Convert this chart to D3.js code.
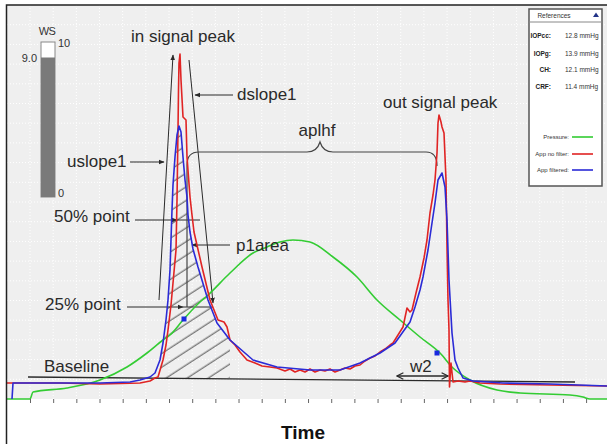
<!DOCTYPE html>
<html>
<head>
<meta charset="utf-8">
<script src="https://cdn.jsdelivr.net/npm/d3@7"></script>
<style>
  body { margin: 0; background: #fff; }
  svg { display: block; font-family: Arial, "Liberation Sans", sans-serif; }
</style>
</head>
<body>
<script>
// samples along x, signal counts along y
const pressure = [[0,0],[23,0],[26,7],[60,11],[93,19],[120,32],[140,46],[156,59],[163,64],[176,79],[193,97],[200,103],[223,126],[246,146],[260,152],[273,157],[286,159],[303,157],[326,142],[350,122],[370,99],[393,79],[413,62],[433,46],[446,31],[463,19],[490,9],[513,6],[563,4],[576,2],[583,0],[600,0]];

const appNoFilter = [[0,16],[53,16],[93,15],[133,16],[143,18],[148,21],[151,22],[156,39],[159,54],[161,69],[164,94],[166,116],[169,149],[170,199],[171,269],[171.5,309],[172,336],[173,345],[174,319],[176,282],[177,281],[179,279],[180,242],[183,202],[185,184],[187,167],[195,132],[203,99],[211,79],[217,77],[220,72],[223,59],[228,54],[233,47],[240,39],[248,36],[255,33],[263,32],[270,31],[278,28],[283,30],[288,27],[293,29],[298,27],[303,30],[308,27],[313,29],[318,28],[323,30],[328,27],[333,29],[338,31],[343,30],[348,33],[353,34],[358,38],[363,41],[368,43],[373,47],[378,50],[383,54],[386,56],[391,64],[396,72],[400,91],[403,87],[405,89],[409,106],[413,122],[417,141],[420,159],[423,186],[426,204],[428,219],[430,246],[431,276],[432,284],[434,277],[435,272],[437,266],[439,219],[440,152],[441,99],[442,69],[442.5,12],[444,36],[446,17],[451,18],[458,17],[463,18],[473,16],[493,15],[543,14],[600,13]];

const appFiltered = [[5,0],[6,16],[53,16],[93,16],[123,17],[133,19],[143,22],[148,26],[153,39],[156,56],[159,79],[161,99],[163,129],[164,159],[165,189],[166,214],[168,242],[170,264],[172,273],[174,267],[176,242],[178,219],[180,202],[181,184],[183,167],[186,150],[191,132],[201,99],[210,76],[223,59],[246,39],[270,32],[303,29],[333,29],[353,36],[373,46],[388,56],[403,77],[408,92],[413,109],[416,122],[421,149],[425,176],[428,196],[431,219],[435,226],[438,212],[440,179],[442,119],[445,66],[448,39],[451,31],[456,21],[466,18],[496,16],[543,15],[600,13]];

const peakMarks = [[177,80],[430,46]];

const seriesNames = ['Pressure:', 'App no filter:', 'App filtered:'];
const refLabels = ['IOPcc:', 'IOPg:', 'CH:', 'CRF:'];
const refValues = ['12.8 mmHg', '13.9 mmHg', '12.1 mmHg', '11.4 mmHg'];

const wsValue = 9.0;
const wsRange = [0, 10];

const tickSamples = d3.range(25).map(k => 23 + k * 23.17);
const gridCounts = d3.range(1, 20).map(k => k * 19.7);

const colors = ['#33cc33', '#e02424', '#2b2bd6'];
const ink = '#2a2a2a';

const svg = d3.select('body').append('svg')
  .attr('width', 607)
  .attr('height', 444);

var x = d3.scaleLinear().domain([0, 600]).range([7, 607]);
var y = d3.scaleLinear().domain([0, 394]).range([399, 5]);

const defs = svg.append('defs');
defs.append('marker')
  .attr('id', 'ah')
  .attr('viewBox', '0 0 10 10')
  .attr('refX', 9).attr('refY', 5)
  .attr('markerWidth', 6).attr('markerHeight', 6)
  .attr('orient', 'auto-start-reverse')
  .append('path').attr('d', 'M0,1L10,5L0,9z').attr('fill', ink);
defs.append('marker')
  .attr('id', 'ao')
  .attr('viewBox', '0 0 10 10')
  .attr('refX', 9).attr('refY', 5)
  .attr('markerWidth', 5).attr('markerHeight', 5)
  .attr('orient', 'auto-start-reverse')
  .append('path').attr('d', 'M1,1L9,5L1,9').attr('fill', 'none').attr('stroke', ink).attr('stroke-width', 1.5);
defs.append('pattern')
  .attr('id', 'hatch')
  .attr('patternUnits', 'userSpaceOnUse')
  .attr('width', 12).attr('height', 11.5)
  .attr('patternTransform', 'rotate(-33)')
  .append('line')
  .attr('x1', 0).attr('x2', 12).attr('y1', 5).attr('y2', 5)
  .attr('stroke', '#3a3a3a').attr('stroke-width', 0.9);

// plot background + grid
svg.append('rect')
  .attr('x', 7).attr('y', 5)
  .attr('width', 600).attr('height', 394)
  .attr('fill', '#efefef');

svg.append('g').selectAll('line')
  .data(tickSamples)
  .enter().append('line')
  .attr('x1', d => x(d)).attr('x2', d => x(d))
  .attr('y1', 5).attr('y2', 399)
  .attr('stroke', '#fff').attr('stroke-dasharray', '1,2');
svg.append('g').selectAll('line')
  .data(gridCounts)
  .enter().append('line')
  .attr('x1', 7).attr('x2', 607)
  .attr('y1', d => y(d)).attr('y2', d => y(d))
  .attr('stroke', '#fff').attr('stroke-dasharray', '1,2');

// hatched p1area
var baseVal = 21;
var hatchArea = d3.area()
  .x(d => x(d[0]))
  .y0(y(baseVal))
  .y1(d => y(Math.max(d[1], baseVal)));
defs.append('clipPath').attr('id', 'p1clip')
  .append('path')
  .attr('d', hatchArea(appFiltered.filter(d => d[0] >= 150 && d[0] <= 228)));
svg.append('rect')
  .attr('x', 140).attr('y', 100)
  .attr('width', 120).attr('height', 290)
  .attr('fill', 'url(#hatch)')
  .attr('clip-path', 'url(#p1clip)');

var line = d3.line().x(d => x(d[0])).y(d => y(d[1]));
function seg(pts, g, opts) {
  var p = g.append('path')
    .attr('d', line(pts))
    .attr('fill', 'none')
    .attr('stroke', ink)
    .attr('stroke-width', (opts && opts.w) || 1);
  if (opts && opts.end) p.attr('marker-end', 'url(#' + opts.end + ')');
  if (opts && opts.start) p.attr('marker-start', 'url(#' + opts.start + ')');
  return p;
}

var ann = svg.append('g');
// baseline
seg([[21,22],[568,17]], ann, { w: 1.3 });
// slopes
seg([[152,99],[166,344]], ann, { end: 'ah' });
seg([[182,339],[206,96]], ann, { end: 'ah' });
// 50% and 25% levels
seg([[128,179],[170,179]], ann, { end: 'ah' });
seg([[170,179],[193,179]], ann);
seg([[120,92],[176,92]], ann, { end: 'ah' });
seg([[176,92],[206,92]], ann);
// leaders
seg([[226,304],[188,304]], ann, { end: 'ah' });
seg([[123,237],[157,237]], ann, { end: 'ah' });
seg([[223,154],[185,154]], ann, { end: 'ah' });
// w2
seg([[390,23],[441,23]], ann, { w: 1.6, start: 'ao', end: 'ao' });

// aplhf brace
var brace = 'M' + x(180) + ',' + y(92) +
  'L' + x(180) + ',' + y(234) +
  'Q' + x(180) + ',' + y(247) + ' ' + x(192) + ',' + y(247) +
  'L' + x(300) + ',' + y(247) +
  'Q' + x(310) + ',' + y(247) + ' ' + x(313) + ',' + y(257) +
  'Q' + x(316) + ',' + y(247) + ' ' + x(326) + ',' + y(247) +
  'L' + x(419) + ',' + y(247) +
  'Q' + x(430) + ',' + y(247) + ' ' + x(430) + ',' + y(233);
ann.append('path').attr('d', brace).attr('fill', 'none').attr('stroke', '#444').attr('stroke-width', 1.2);

// signal curves
var curves = [pressure, appNoFilter, appFiltered];
svg.append('g').selectAll('path')
  .data(curves)
  .enter().append('path')
  .attr('d', (d, i) => (i === 0 ? d3.line().curve(d3.curveMonotoneX).x(p => x(p[0])).y(p => y(p[1])) : line)(d))
  .attr('fill', 'none')
  .attr('stroke', (d, i) => colors[i])
  .attr('stroke-width', 1.6)
  .attr('stroke-linejoin', 'round');

svg.append('g').selectAll('rect')
  .data(peakMarks)
  .enter().append('rect')
  .attr('x', d => x(d[0]) - 2.5).attr('y', d => y(d[1]) - 2.5)
  .attr('width', 5).attr('height', 5)
  .attr('fill', '#1a2ae0');

// annotation labels
var labels = [
  ['in signal peak', 124, 357, 'start'],
  ['dslope1', 230, 299, 'start'],
  ['uslope1', 60, 232, 'start'],
  ['aplhf', 310, 263, 'middle'],
  ['out signal peak', 376, 291, 'start'],
  ['50% point', 47, 177, 'start'],
  ['25% point', 38, 89, 'start'],
  ['p1area', 229, 148, 'start'],
  ['Baseline', 37, 27, 'start'],
  ['w2', 403, 27, 'start']
];
svg.append('g').selectAll('text')
  .data(labels)
  .enter().append('text')
  .attr('x', d => x(d[1])).attr('y', d => y(d[2]))
  .attr('text-anchor', d => d[3])
  .attr('font-size', 17)
  .attr('fill', ink)
  .text(d => d[0]);

// time ticks
svg.append('g')
  .attr('transform', 'translate(0,399)')
  .call(d3.axisBottom(x).tickValues(tickSamples).tickSize(4).tickFormat(''))
  .call(g => g.select('.domain').remove())
  .call(g => g.selectAll('line').attr('stroke', '#666'));

svg.append('text')
  .attr('x', 303).attr('y', 439)
  .attr('text-anchor', 'middle')
  .attr('font-size', 19).attr('font-weight', 'bold')
  .attr('fill', '#111')
  .text('Time');

// WS gauge
var ws = d3.scaleLinear().domain(wsRange).range([197, 42]);
var gauge = svg.append('g');
gauge.append('rect')
  .attr('x', 41).attr('y', ws(10))
  .attr('width', 14).attr('height', ws(0) - ws(10))
  .attr('fill', '#fff').attr('stroke', '#888');
gauge.append('rect')
  .attr('x', 41).attr('y', ws(wsValue))
  .attr('width', 14).attr('height', ws(0) - ws(wsValue))
  .attr('fill', '#7a7a7a');
gauge.append('text').attr('x', 47).attr('y', 35).attr('text-anchor', 'middle')
  .attr('font-size', 11).attr('letter-spacing', -0.5).attr('fill', '#333').text('WS');
gauge.append('text').attr('x', 58).attr('y', ws(10) + 5)
  .attr('font-size', 11).attr('fill', '#333').text(wsRange[1]);
gauge.append('text').attr('x', 58).attr('y', ws(0))
  .attr('font-size', 11).attr('fill', '#333').text(wsRange[0]);
gauge.append('text').attr('x', 37).attr('y', ws(wsValue) + 4).attr('text-anchor', 'end')
  .attr('font-size', 11).attr('fill', '#333').text(wsValue.toFixed(1));

// references box
var box = svg.append('g');
box.append('rect')
  .attr('x', 529).attr('y', 9)
  .attr('width', 73).attr('height', 177)
  .attr('fill', '#fff').attr('stroke', '#555').attr('stroke-width', 1.5);
box.append('line')
  .attr('x1', 529).attr('x2', 602).attr('y1', 22).attr('y2', 22)
  .attr('stroke', '#888');
box.append('text').attr('x', 554).attr('y', 17.5).attr('text-anchor', 'middle')
  .attr('font-size', 6.5).attr('fill', '#333').text('References');
box.append('path').attr('d', 'M593,17 L596,12.5 L599,17 Z').attr('fill', '#223388');

box.selectAll('.rl')
  .data(refLabels)
  .enter().append('text')
  .attr('x', 551).attr('y', (d, i) => [37.5, 55.5, 71.5, 88.5][i])
  .attr('text-anchor', 'end')
  .attr('font-size', 6.5).attr('font-weight', 'bold').attr('fill', '#222')
  .text(d => d);
box.selectAll('.rv')
  .data(refValues)
  .enter().append('text')
  .attr('x', 565).attr('y', (d, i) => [37.5, 55.5, 71.5, 88.5][i])
  .attr('font-size', 6.5).attr('fill', '#333')
  .text(d => d);

var legY = [137, 154, 170];
box.selectAll('.ln')
  .data(seriesNames)
  .enter().append('text')
  .attr('x', 569).attr('y', (d, i) => legY[i] + 2.3)
  .attr('text-anchor', 'end')
  .attr('font-size', 6).attr('fill', '#333')
  .text(d => d);
box.selectAll('.ll')
  .data(seriesNames)
  .enter().append('line')
  .attr('x1', 572).attr('x2', 593)
  .attr('y1', (d, i) => legY[i]).attr('y2', (d, i) => legY[i])
  .attr('stroke', (d, i) => colors[i]).attr('stroke-width', 1.6);

// frame
svg.append('path')
  .attr('d', 'M6.5,444 L6.5,5 L607,5')
  .attr('fill', 'none')
  .attr('stroke', '#222')
  .attr('stroke-width', 1.5);
</script>
</body>
</html>
